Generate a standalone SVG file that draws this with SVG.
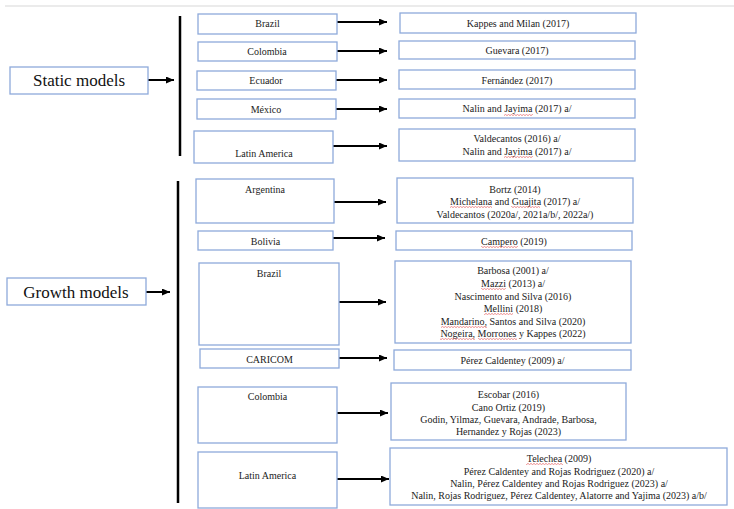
<svg xmlns="http://www.w3.org/2000/svg" width="734" height="509" viewBox="0 0 734 509">
<defs>
<marker id="ah" markerUnits="userSpaceOnUse" markerWidth="9" markerHeight="8" refX="8" refY="3.5" orient="auto">
<path d="M0,0 L8,3.5 L0,7 z" fill="#000"/>
</marker>
<pattern id="wv" width="3" height="2" patternUnits="userSpaceOnUse">
<path d="M0,1.6 L1.5,0.4 L3,1.6" stroke="#e04040" stroke-width="0.6" fill="none"/>
</pattern>
<style>
.b{fill:#fff;stroke:#8eaadb;stroke-width:1.3}
.t{font-family:"Liberation Serif","Times New Roman",serif;font-size:10px;fill:#222;text-anchor:middle}
.big{font-family:"Liberation Serif","Times New Roman",serif;font-size:17px;fill:#111;text-anchor:middle}
.a{stroke:#000;stroke-width:2;fill:none;marker-end:url(#ah)}
.v{stroke:#000;stroke-width:2.5}
.sq{fill:url(#wv)}
</style>
</defs>
<rect width="734" height="509" fill="#fff"/>
<line x1="5" y1="6" x2="734" y2="6" stroke="#e4e4e4" stroke-width="1.5"/>

<g id="connectors">
<line class="v" x1="180" y1="16" x2="180" y2="156"/>
<line class="v" x1="178" y1="181" x2="178" y2="503"/>
<line class="a" x1="148" y1="80" x2="174" y2="80"/>
<line class="a" x1="146" y1="292" x2="170" y2="292"/>
<line class="a" x1="337" y1="22" x2="387" y2="22"/>
<line class="a" x1="337" y1="51" x2="387" y2="51"/>
<line class="a" x1="336" y1="80" x2="387" y2="80"/>
<line class="a" x1="336" y1="109" x2="387" y2="109"/>
<line class="a" x1="333" y1="146" x2="387" y2="146"/>
<line class="a" x1="334" y1="202" x2="386" y2="202"/>
<line class="a" x1="333" y1="238" x2="385" y2="238"/>
<line class="a" x1="339" y1="302" x2="386" y2="302"/>
<line class="a" x1="339" y1="358" x2="387" y2="358"/>
<line class="a" x1="337" y1="413" x2="388" y2="413"/>
<line class="a" x1="337" y1="479" x2="389" y2="479"/>
</g>

<g id="static-models"><rect class="b" x="10" y="67" width="138" height="27"/><text class="big" x="79" y="86">Static models</text></g>
<g id="growth-models"><rect class="b" x="7" y="278" width="139" height="27"/><text class="big" x="76" y="298">Growth models</text></g>

<g id="s-brazil"><rect class="b" x="198" y="14" width="139" height="20"/><text class="t" x="267.5" y="27">Brazil</text></g>
<g id="s-colombia"><rect class="b" x="198" y="42" width="139" height="19"/><text class="t" x="267" y="55">Colombia</text></g>
<g id="s-ecuador"><rect class="b" x="197" y="71" width="139" height="19"/><text class="t" x="266" y="84">Ecuador</text></g>
<g id="s-mexico"><rect class="b" x="197" y="99" width="139" height="20"/><text class="t" x="266" y="112.5">México</text></g>
<g id="s-latam"><rect class="b" x="194" y="131" width="139" height="32"/><text class="t" x="264" y="156.5">Latin America</text></g>

<g id="s-brazil-ref"><rect class="b" x="400" y="13" width="236" height="20"/><text class="t" x="518" y="26.5">Kappes and Milan (2017)</text></g>
<g id="s-colombia-ref"><rect class="b" x="399" y="41" width="236" height="18"/><text class="t" x="517" y="54">Guevara (2017)</text></g>
<g id="s-ecuador-ref"><rect class="b" x="399" y="70" width="236" height="19"/><text class="t" x="517" y="83.5">Fernández (2017)</text></g>
<g id="s-mexico-ref"><rect class="b" x="399" y="99" width="236" height="19"/><text class="t" x="517" y="112">Nalin and Jayima (2017) a/</text>
<rect class="sq" x="504" y="114" width="29" height="2"/></g>
<g id="s-latam-ref"><rect class="b" x="399" y="129" width="236" height="32"/><text class="t" x="517" y="141.5">Valdecantos (2016) a/</text><text class="t" x="517" y="154.5">Nalin and Jayima (2017) a/</text>
<rect class="sq" x="504" y="156" width="29" height="2"/></g>

<g id="g-argentina"><rect class="b" x="196" y="179" width="138" height="44"/><text class="t" x="265" y="192.5">Argentina</text></g>
<g id="g-bolivia"><rect class="b" x="198" y="231" width="135" height="19"/><text class="t" x="265.5" y="244.5">Bolivia</text></g>
<g id="g-brazil"><rect class="b" x="199" y="263" width="140" height="82"/><text class="t" x="269" y="276.5">Brazil</text></g>
<g id="g-caricom"><rect class="b" x="200" y="349" width="139" height="19"/><text class="t" x="269.5" y="362.5">CARICOM</text></g>
<g id="g-colombia"><rect class="b" x="198" y="387" width="139" height="56"/><text class="t" x="267.5" y="399.5">Colombia</text></g>
<g id="g-latam"><rect class="b" x="198" y="452" width="139" height="56"/><text class="t" x="267.5" y="478.5">Latin America</text></g>

<g id="g-argentina-ref"><rect class="b" x="397" y="178" width="236" height="45"/>
<text class="t" x="515" y="192.5">Bortz (2014)</text>
<text class="t" x="515" y="204.5">Michelana and Guajita (2017) a/</text>
<text class="t" x="515" y="217.5">Valdecantos (2020a/, 2021a/b/, 2022a/)</text>
<rect class="sq" x="450" y="206" width="42" height="2"/>
<rect class="sq" x="511" y="206" width="29" height="2"/></g>
<g id="g-bolivia-ref"><rect class="b" x="396" y="231" width="236" height="19"/><text class="t" x="514" y="244.5">Campero (2019)</text>
<rect class="sq" x="481" y="246" width="37" height="2"/></g>
<g id="g-brazil-ref"><rect class="b" x="395" y="261" width="236" height="82"/>
<text class="t" x="513" y="273.5">Barbosa (2001) a/</text>
<text class="t" x="513" y="286.5">Mazzi (2013) a/</text>
<text class="t" x="513" y="299.5">Nascimento and Silva (2016)</text>
<text class="t" x="513" y="311.5">Mellini (2018)</text>
<text class="t" x="513" y="324.5">Mandarino, Santos and Silva (2020)</text>
<text class="t" x="513" y="336.5">Nogeira, Morrones y Kappes (2022)</text>
<rect class="sq" x="481" y="288" width="25" height="2"/>
<rect class="sq" x="484" y="313" width="29" height="2"/>
<rect class="sq" x="441" y="326" width="46" height="2"/>
<rect class="sq" x="440" y="338" width="35" height="2"/>
<rect class="sq" x="478" y="338" width="39" height="2"/></g>
<g id="g-caricom-ref"><rect class="b" x="394" y="350" width="237" height="20"/><text class="t" x="512.5" y="363.5">Pérez Caldentey (2009) a/</text></g>
<g id="g-colombia-ref"><rect class="b" x="391" y="383" width="235" height="57"/>
<text class="t" x="508.5" y="397.5">Escobar (2016)</text>
<text class="t" x="508.5" y="410.5">Cano Ortiz (2019)</text>
<text class="t" x="508.5" y="422.5">Godin, Yilmaz, Guevara, Andrade, Barbosa,</text>
<text class="t" x="508.5" y="434.5">Hernandez y Rojas (2023)</text></g>
<g id="g-latam-ref"><rect class="b" x="390" y="448" width="337" height="57"/>
<text class="t" x="559" y="461.5">Telechea (2009)</text>
<text class="t" x="559" y="474.5">Pérez Caldentey and Rojas Rodriguez (2020) a/</text>
<text class="t" x="559" y="486.5">Nalin, Pérez Caldentey and Rojas Rodriguez (2023) a/</text>
<text class="t" x="559" y="498.5">Nalin, Rojas Rodriguez, Pérez Caldentey, Alatorre and Yajima (2023) a/b/</text>
<rect class="sq" x="526" y="463" width="37" height="2"/></g>
</svg>
